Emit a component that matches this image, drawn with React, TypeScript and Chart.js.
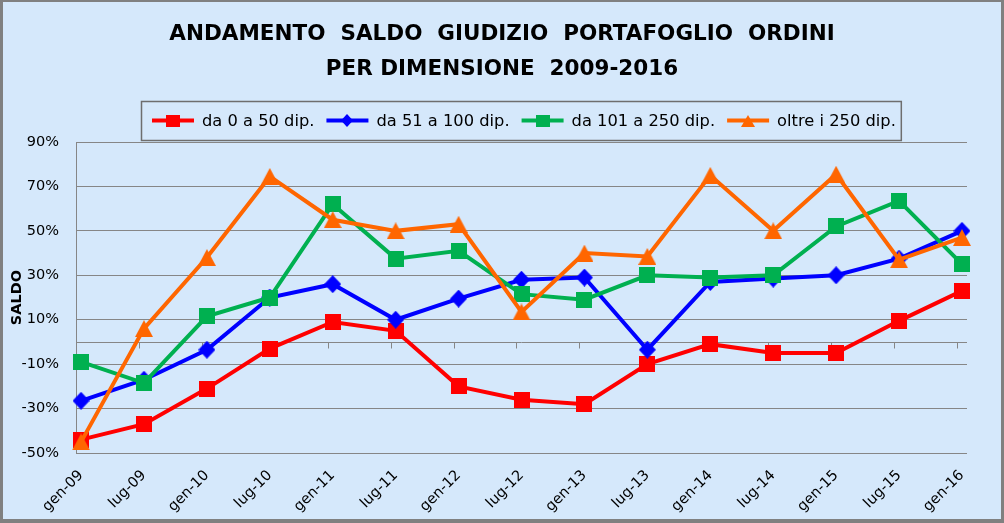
import React, { useEffect, useRef } from "react";
import { Chart, registerables } from "chart.js";

Chart.register(...registerables);

// ---------- DATA ----------
const CATEGORIES = [
  "gen-09", "lug-09", "gen-10", "lug-10", "gen-11", "lug-11", "gen-12", "lug-12",
  "gen-13", "lug-13", "gen-14", "lug-14", "gen-15", "lug-15", "gen-16",
];
const SERIES_NAMES = ["da 0 a 50 dip.", "da 51 a 100 dip.", "da 101 a 250 dip.", "oltre i 250 dip."];
const SMALL = [-44, -37, -21, -3, 9, 5, -20, -26, -28, -10, -1, -5, -5, 9.5, 23];
const MEDIUM = [-26.5, -17, -3.5, 20, 26, 10, 19.5, 28, 29, -3.5, 27, 28.5, 30, 37.5, 50];
const LARGE = [-9, -18.5, 11.5, 20, 62, 37.5, 41, 21.5, 19, 30, 29, 30, 52, 63.5, 35];
const XLARGE = [-45, 6, 38, 74.5, 55, 50, 53, 13.5, 40, 38.5, 75, 50, 75.5, 37, 47];
const Y_MIN = -50;
const Y_MAX = 90;
const Y_STEP = 20;
const TITLE_LINES = ["ANDAMENTO  SALDO  GIUDIZIO  PORTAFOGLIO  ORDINI", "PER DIMENSIONE  2009-2016"];
const Y_TITLE = "SALDO";

// ---------- STYLE ----------
const FONT = "DejaVu Sans";
const BG = "#D5E8FB";
const GRID = "#868686";
const COLORS = ["#FF0000", "#0000FF", "#00B050", "#FF6600"];
const SHAPES = ["square", "diamond", "square", "triangle"];
const MARKER_SIZES = [[16, 16], [17, 18], [16, 16], [18, 17]];
const LEGEND_MARKER_SIZES = [[14, 12], [12, 13], [14, 12], [14, 12]];
const X_PAD = 0.08;

function makeMarker(shape: string, color: string, w: number, h: number) {
  const c = document.createElement("canvas");
  c.width = w;
  c.height = h;
  const g = c.getContext("2d")!;
  g.fillStyle = color;
  g.beginPath();
  if (shape === "square") {
    g.rect(0, 0, w, h);
  } else if (shape === "diamond") {
    g.moveTo(w / 2, 0);
    g.lineTo(w, h / 2);
    g.lineTo(w / 2, h);
    g.lineTo(0, h / 2);
    g.closePath();
  } else {
    g.moveTo(w / 2, 0);
    g.lineTo(w, h);
    g.lineTo(0, h);
    g.closePath();
  }
  g.fill();
  return c;
}

const backgroundPlugin = {
  id: "bgFrame",
  beforeDraw(chart: any) {
    const { ctx, width, height } = chart;
    ctx.save();
    ctx.fillStyle = BG;
    ctx.fillRect(0, 0, width, height);
    ctx.restore();
  },
  afterDraw(chart: any) {
    const { ctx, width, height } = chart;
    ctx.save();
    ctx.fillStyle = "#808080";
    ctx.fillRect(0, 0, width, 2);
    ctx.fillRect(0, 0, 3, height);
    ctx.fillRect(width - 3, 0, 3, height);
    ctx.fillRect(0, height - 4, width, 4);
    ctx.restore();
  },
};

const zeroAxisPlugin = {
  id: "zeroAxis",
  beforeDatasetsDraw(chart: any) {
    const { ctx } = chart;
    const xs = chart.scales.x;
    const ys = chart.scales.y;
    const y0 = Math.round(ys.getPixelForValue(0)) + 0.5;
    ctx.save();
    ctx.strokeStyle = GRID;
    ctx.lineWidth = 1;
    ctx.beginPath();
    ctx.moveTo(chart.chartArea.left, y0);
    ctx.lineTo(chart.chartArea.right, y0);
    for (let k = 1; k < CATEGORIES.length; k++) {
      const x = Math.round(xs.getPixelForValue(-X_PAD + k)) + 0.5;
      ctx.moveTo(x, y0);
      ctx.lineTo(x, y0 + 6);
    }
    ctx.stroke();
    ctx.restore();
  },
};

const LEGEND_BOX = { x: 141, y: 101, h: 39 };

const boxLegendPlugin = {
  id: "boxLegend",
  afterDraw(chart: any) {
    const { ctx } = chart;
    ctx.save();
    ctx.font = `16.3px "${FONT}"`;
    const cy = LEGEND_BOX.y + LEGEND_BOX.h / 2;
    let x = LEGEND_BOX.x + 11;
    chart.data.datasets.forEach((ds: any, i: number) => {
      ctx.strokeStyle = ds.borderColor;
      ctx.lineWidth = 4;
      ctx.beginPath();
      ctx.moveTo(x, cy);
      ctx.lineTo(x + 42, cy);
      ctx.stroke();
      const [mw, mh] = LEGEND_MARKER_SIZES[i];
      const m = makeMarker(SHAPES[i], ds.borderColor, mw, mh);
      ctx.drawImage(m, Math.round(x + 21 - mw / 2), Math.round(cy - mh / 2));
      ctx.fillStyle = "#000";
      ctx.textBaseline = "middle";
      ctx.textAlign = "left";
      ctx.fillText(ds.label, x + 50, cy + 1);
      const tw = ctx.measureText(ds.label).width;
      x += 50 + tw + (i < chart.data.datasets.length - 1 ? 12 : 0);
    });
    const right = x + 5;
    ctx.strokeStyle = "#6E6E6E";
    ctx.lineWidth = 1.5;
    ctx.strokeRect(LEGEND_BOX.x + 0.5, LEGEND_BOX.y + 0.5, right - LEGEND_BOX.x, LEGEND_BOX.h);
    ctx.restore();
  },
};

export default function App() {
  const ref = useRef<HTMLCanvasElement>(null);

  useEffect(() => {
    const seriesValues = [SMALL, MEDIUM, LARGE, XLARGE];
    const datasets = seriesValues.map((vals, i) => ({
      label: SERIES_NAMES[i],
      data: vals.map((v, j) => ({ x: j, y: v })),
      borderColor: COLORS[i],
      backgroundColor: COLORS[i],
      borderWidth: 4,
      tension: 0,
      pointStyle: makeMarker(SHAPES[i], COLORS[i], MARKER_SIZES[i][0], MARKER_SIZES[i][1]),
      pointRadius: 9,
      clip: false as any,
      order: seriesValues.length - i,
    }));

    const chart = new Chart(ref.current!, {
      type: "line",
      data: { datasets },
      plugins: [backgroundPlugin, zeroAxisPlugin, boxLegendPlugin],
      options: {
        animation: false,
        responsive: true,
        maintainAspectRatio: false,
        layout: { padding: 0 },
        plugins: {
          legend: { display: false },
          tooltip: { enabled: false },
          title: {
            display: true,
            text: TITLE_LINES,
            color: "#000",
            font: { family: FONT, size: 21.5, weight: "bold", lineHeight: 35 / 21.5 },
            padding: { top: 17, bottom: 55 },
          },
        },
        scales: {
          x: {
            type: "linear",
            min: -X_PAD,
            max: CATEGORIES.length - 1 + X_PAD,
            afterBuildTicks: (s: any) => {
              s.ticks = CATEGORIES.map((_, i) => ({ value: i }));
            },
            afterFit: (s: any) => {
              s.height = 70;
            },
            grid: { display: false, drawTicks: false },
            border: { display: false },
            ticks: {
              autoSkip: false,
              minRotation: 45,
              maxRotation: 45,
              padding: 14,
              color: "#000",
              font: { family: FONT, size: 14.5 },
              callback: (v: any) => CATEGORIES[v] ?? "",
            },
          },
          y: {
            min: Y_MIN,
            max: Y_MAX,
            afterFit: (s: any) => {
              s.width = 76;
            },
            grid: { color: GRID, lineWidth: 1, drawTicks: false },
            border: { color: GRID, width: 1 },
            ticks: {
              stepSize: Y_STEP,
              padding: 17,
              color: "#000",
              font: { family: FONT, size: 14.5 },
              callback: (v: any) => `${v}%`,
            },
            title: {
              display: true,
              text: Y_TITLE,
              color: "#000",
              font: { family: FONT, size: 14.5, weight: "bold" },
              padding: { top: 9, bottom: 0 },
            },
          },
          yRight: {
            position: "right",
            min: Y_MIN,
            max: Y_MAX,
            afterFit: (s: any) => {
              s.width = 37;
            },
            grid: { display: false, drawTicks: false },
            border: { display: false },
            ticks: { display: false },
          },
        },
      },
    } as any);
    return () => chart.destroy();
  }, []);

  return (
    <div style={{ position: "fixed", left: 0, top: 0, width: 1004, height: 523 }}>
      <canvas ref={ref} />
    </div>
  );
}
